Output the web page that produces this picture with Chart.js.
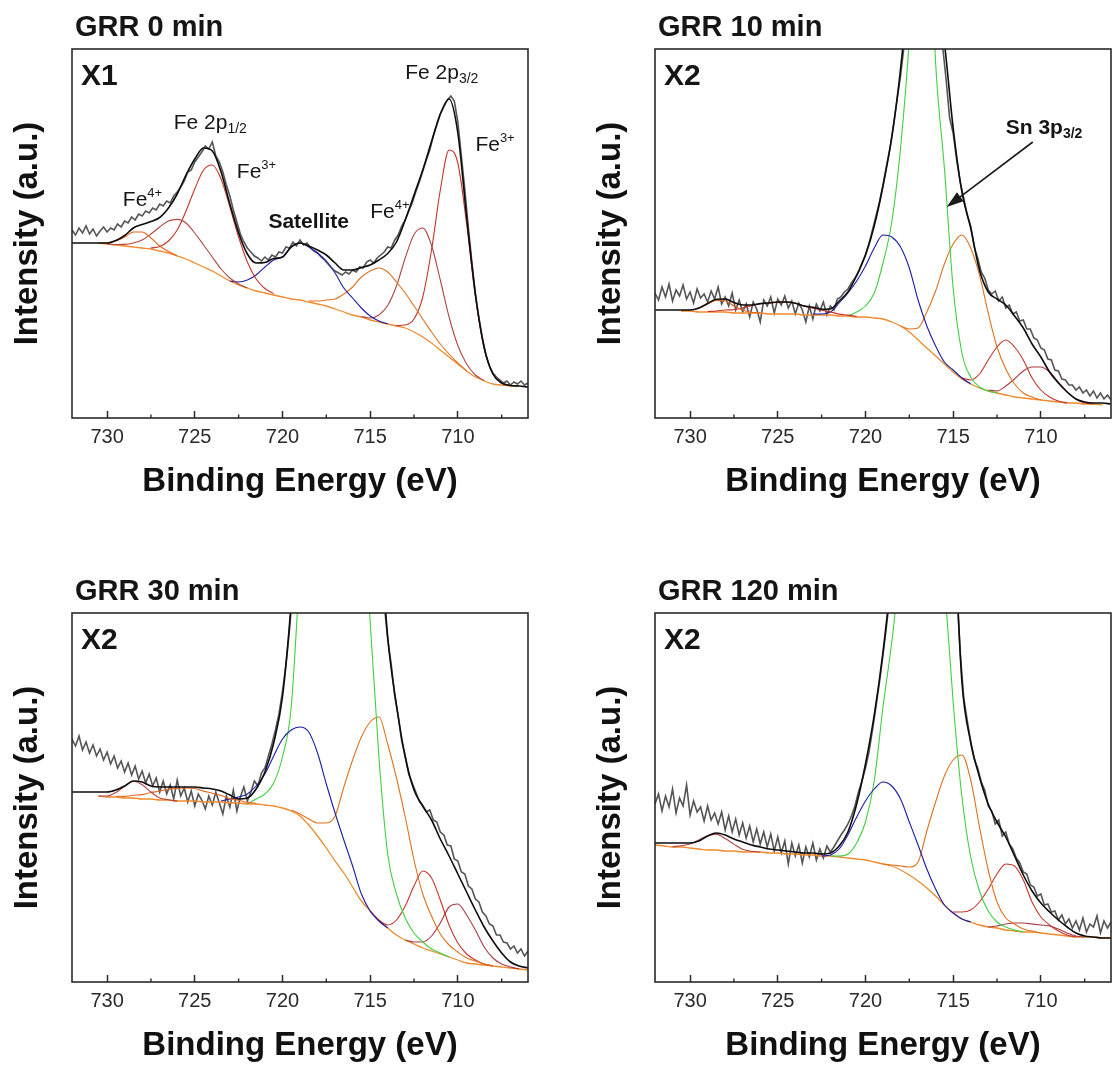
<!DOCTYPE html>
<html><head><meta charset="utf-8">
<script src="https://cdn.jsdelivr.net/npm/chart.js@4.4.1/dist/chart.umd.min.js"></script>
<style>
html,body{margin:0;padding:0;background:#fff;}
#wrap{position:relative;width:1113px;height:1068px;overflow:hidden;background:#fff;}
.pan{position:absolute;width:530px;height:504px;}
canvas{display:block;}
</style></head><body>
<div id="wrap">
<div class="pan" style="left:0;top:0"><canvas id="c0" width="530" height="504"></canvas></div>
<div class="pan" style="left:583px;top:0"><canvas id="c1" width="530" height="504"></canvas></div>
<div class="pan" style="left:0;top:564px"><canvas id="c2" width="530" height="504"></canvas></div>
<div class="pan" style="left:583px;top:564px"><canvas id="c3" width="530" height="504"></canvas></div>
</div>
<script>
// ---------------- DATA ----------------
const fitEnergy = [732,731.5,731,730.5,730,729.5,729,728.5,728,727.5,727,726.5,726,725.5,725,724.5,724,723.5,723,722.5,722,721.5,721,720.5,720,719.5,719,718.5,718,717.5,717,716.5,716,715.5,715,714.5,714,713.5,713,712.5,712,711.5,711,710.5,710,709.5,709,708.5,708,707.5,707,706.5,706];
const rawEnergy = [732,731.8,731.6,731.4,731.2,731,730.8,730.6,730.4,730.2,
730,729.8,729.6,729.4,729.2,729,728.8,728.6,728.4,728.2,
728,727.8,727.6,727.4,727.2,727,726.8,726.6,726.4,726.2,
726,725.8,725.6,725.4,725.2,725,724.8,724.6,724.4,724.2,
724,723.8,723.6,723.4,723.2,723,722.8,722.6,722.4,722.2,
722,721.8,721.6,721.4,721.2,721,720.8,720.6,720.4,720.2,
720,719.8,719.6,719.4,719.2,719,718.8,718.6,718.4,718.2,
718,717.8,717.6,717.4,717.2,717,716.8,716.6,716.4,716.2,
716,715.8,715.6,715.4,715.2,715,714.8,714.6,714.4,714.2,
714,713.8,713.6,713.4,713.2,713,712.8,712.6,712.4,712.2,
712,711.8,711.6,711.4,711.2,711,710.8,710.6,710.4,710.2,
710,709.8,709.6,709.4,709.2,709,708.8,708.6,708.4,708.2,
708,707.8,707.6,707.4,707.2,707,706.8,706.6,706.4,706.2,
706];
const xTickValues = [730,725,720,715,710];
const xTickLabels = ['730','725','720','715','710'];
const minorTickValues = [727.5,722.5,717.5,712.5,707.5];
const panelTitles = ['GRR 0 min','GRR 10 min','GRR 30 min','GRR 120 min'];
const panelMagnification = ['X1','X2','X2','X2'];
const xAxisTitle = 'Binding Energy (eV)';
const yAxisTitle = 'Intensity (a.u.)';

// ---- Panel 1 : GRR 0 min ----
const p1Raw = [188,183,190,185,192,184,189,182,187,191, 186,190,188,194,191,197,195,201,198,204, 202,207,205,210,208,214,212,217,215,222, 226,231,237,246,248,256,261,266,272,269, 276,262,256,246,233,222,208,196,184,176, 170,166,162,160,157,161,158,163,161,166, 165,171,170,176,172,178,173,175,170,167, 165,161,158,154,150,147,145,143,146,144, 148,146,151,150,156,158,155,160,163,166, 171,170,178,183,192,198,207,215,226,236, 247,258,268,282,293,304,311,318,322,317, 296,262,228,190,156,124,100,80,63,52, 45,41,38,35,37,33,36,34,37,33, 35];
const p1Env = {from:732, y:[175,175,175,175,175,177.5,182.5,190,193.5,196.5,200.5,210,224,243,259,270,267,246,214,185,164,155,155.5,159.5,161,171,175,172,168,163,155,148,148,150.5,153,158,164.5,176,198,223,248,276.5,304,319,285,201,124,70.5,44,35,32.5,32,31]};
const p1Bg = {from:730.5, y:[175,174,173,172,171,170,169,167,165,162,159,155,151,147,142,137,133,130,127,125,123,121,119,118,116,114,112,109,106,103,101,98,96,94,92,90,86,81,75,68,61,54,47,41,37,34,33,32,32]};
const p1FeIVa = {from:730.5, y:[175,175,177,181,186,186,180,172,166.5,162]};
const p1FeIVb = {from:730, y:[174,173.5,173.6,175,178,184,191,197,198.6,195,185,173,161,149,140,134,130]};
const p1FeIIIa = {from:727.5, y:[170,171.5,177,188,207,229,248,253,239,211,181,156,139,129.5,124.4]};
const p1Sat = {from:723, y:[137,136,138,143,151,158,161,171,175,171,165,157,145,130,120,110,102,97,94]};
const p1FeIVc = {from:718.5, y:[117,117,118,119,124,131,141,147,150,146,136,125,112,99,86,74,64,55,47]};
const p1FeIVd = {from:715.5, y:[101.5,100,103,112.5,132,160,183.5,190,172.5,138,101,72.5,54,43,37.5]};
const p1FeIIIb = {from:713.5, y:[92.4,93,99,121,168,228,268,255,194,121.6,70,44,35,32.4]};

// ---- Panel 2 : GRR 10 min ----
const p2Raw = [125,118,131,121,134,117,128,122,133,119, 126,115,129,120,124,116,127,119,131,114, 121,112,125,108,118,106,114,101,116,109, 96,118,112,121,105,119,113,122,110,117, 104,115,108,96,112,99,114,107,116,103, 112,108,119,121,126,129,135,140,146,155, 163,174,188,202,216,233,252,270,292,318, 342,372,420,480,540,590,610,605,570,500, 440,400,372,338,300,285,258,236,220,203, 192,171,160,146,140,128,124,127,117,121, 110,113,104,106,97,98,89,89,80,78, 70,68,59,58,48,47,39,38,33,33, 28,31,25,28,22,27,20,25,19,23, 18];
const p2Env = {from:732, y:[108,108,108,108,108,110,114.5,118.7,119,115.4,113,113,114.4,115,116,116,114.7,112,110.8,108.8,109,117,126,142.5,163,192,232,281,349,447,612,618,430,375,290,226,190,148,126,119,113,102,90,74,61,46,35,26,19,16,15,15,14]};
const p2Bg = {from:730.5, y:[107,107,106,106,106,106,105,105,105,105,104,104,104,104,103,103,103,103,102,102,101,101,100,99,96,92,86,78,70,62,54,46,39,34,30,27,25,23,21,20,19,18,17,16,15,15,14,14,13]};
const p2FeA = {from:730.5, y:[107.2,108,109.6,114,117.6,117.2,112,107.8,105.8,105.1]};
const p2FeB = {from:729, y:[106.5,107,108,108.3,110.2,112.3,114.3,115,115.9,115.9,114.7,111.9,109.8,107.8,106.1,103.9,102.9,101.5]};
const p2Sat = {from:723, y:[104,104,106,115,125,137,152,170,183,181,171,150,118,92,72,56,48,40,34]};
const p2Sn = {from:721, y:[102,106,112,125,155,196,270,380,560,560,355,250,130,65,41,31,27,25]};
const p2FeIV = {from:718, y:[92,89,90,106,127,154,174,183,170,143,105,71,49,34,25,21,18]};
const p2FeIIIa = {from:714.5, y:[40,38,44,58,71,78,71,58,40,28,21,17,15]};
const p2FeIIIb = {from:713, y:[28,27,32,39,47,51,51,46,36,26,19,15,14]};

// ---- Panel 3 : GRR 30 min ----
const p3Raw = [243,236,246,232,240,229,237,226,233,222, 230,218,226,214,221,210,219,207,216,203, 211,199,208,196,204,190,201,188,197,183, 202,186,194,180,191,176,188,182,173,186, 177,190,179,168,186,175,192,171,185,195, 181,190,201,196,209,214,226,238,252,268, 290,318,352,395,450,520,590,660,720,780, 830,870,900,915,920,915,900,870,830,780, 720,660,600,550,510,480,455,435,415,378, 343,318,286,266,241,226,208,199,190,181, 176,170,172,162,160,150,147,137,136,123, 121,110,108,96,93,83,80,70,66,58, 56,47,47,40,39,33,36,29,33,26, 31];
const p3Env = {from:732, y:[190,190,190,190,190,192,196,201,200,196,195,195,195,195,195,194,193,191,187,183,184,193,210,239,285,380,520,700,880,900,900,900,880,700,580,470,345,277,225,192,176,162,143,126,108,90,72,55,41,29,20,16,14]};
const p3Bg = {from:730.5, y:[186,185,185,184,184,183,183,182,182,181,181,181,180,180,180,179,179,178,178,177,176,174,171,166,157,146,134,121,109,95,81,71,61,54,47,42,38,34,31,28,25,22,19,18,17,16,15,14,13,12]};
const p3FeA = {from:730.5, y:[186,186,189.6,195.6,200.8,197.3,190,184,182.3,181]};
const p3FeB = {from:729.5, y:[185.8,185.6,186.7,187.4,189.5,190.8,192.9,193.5,194,193.5,190.9,188.8,186.5,183.4,181.7,179.6,178.8]};
const p3Sat = {from:723.5, y:[181,183,185,188,196,208,226,243,252,255,250,229,198,169,142,116,88,71,61,54]};
const p3Sn = {from:722, y:[178,183,188,199,225,275,420,600,800,900,900,850,700,520,360,225,128,88,64,49,40,33,29,25]};
const p3FeIV = {from:719.5, y:[172,168,163,159,159,166,195,222,245,260,265,238,204,165,122,88,66,48,37,30,24,21,18,16]};
const p3FeIIIa = {from:715, y:[71,62,57,62,76,96,111,104,82,57,39,28,22,18,16]};
const p3FeIIIb = {from:713, y:[42,40,40,46,59,75,78,67,52,35,24,18,15,13]};

// ---- Panel 4 : GRR 120 min ----
const p4Raw = [178,188,171,186,175,193,169,184,176,197, 167,181,170,175,161,176,162,169,158,170, 152,166,150,163,147,159,144,156,140,153, 138,150,135,148,131,145,129,141,118,139, 126,137,119,135,125,139,122,133,124,136, 130,135,141,147,152,158,166,176,190,201, 214,230,252,275,300,327,356,388,420,460, 500,540,570,590,600,605,605,600,590,575, 560,540,515,490,470,455,395,330,285,262, 240,223,214,200,192,176,171,158,162,146, 150,138,133,124,119,110,108,97,95,86, 88,77,78,70,71,62,67,58,63,54, 61,52,64,50,58,55,66,49,61,54, 60];
const p4Env = {from:732, y:[139,139,139,139,139,141,146,149,147,143,140,137,135,133,132,131,130,129,129,128,129,136,150,178,218,267,330,410,500,580,620,620,600,540,470,300,240,205,178,160,145,126,107,91,79,70,62,55,49,46,45,44,44]};
const p4Bg = {from:732, y:[137,136,135,135,134,133,132,132,131,131,130,130,130,129,129,128,128,127,127,126,126,125,124,123,122,120,118,116,112,107,101,94,86,77,69,63,60,57,55,54,52,51,50,50,49,48,47,46,45,45,45,44,44]};
const p4FeA = {from:731, y:[135.3,136.3,138.1,142.1,146.3,147.9,143.5,137.9,132.7,130.8,130]};
const p4Sat = {from:722.5, y:[126,127,133,147,165,181,193,200,196,183,160,137,113,93,77,69,63,60]};
const p4Sn = {from:722, y:[126,126,128,139,160,201,275,340,420,500,540,540,500,400,280,185,125,91,71,60,55,52,50]};
const p4FeIV = {from:719, y:[118,117,116,115,120,151,180,206,222,227,202,155,112,80,64,58,53,51,49]};
const p4FeIIIa = {from:715, y:[70,70,72,80,93,108,118,116,102,80,65,57,51,47,45]};
const p4FeIIIb = {from:713, y:[55,56,58,59,59,58,57,56,53,49,46,45]};

// ---- Annotations (text, anchored in data units) ----
const p1Labels = [
  {e:726.2, v:295, parts:[{t:'Fe 2p',s:21},{t:'1/2',s:14,dy:6}]},
  {e:722.6, v:246, parts:[{t:'Fe',s:21},{t:'3+',s:13,dy:-7}]},
  {e:729.1, v:218, parts:[{t:'Fe',s:21},{t:'4+',s:13,dy:-7}]},
  {e:720.8, v:196, parts:[{t:'Satellite',s:21,w:'bold'}]},
  {e:715.0, v:206, parts:[{t:'Fe',s:21},{t:'4+',s:13,dy:-7}]},
  {e:713.0, v:345, parts:[{t:'Fe 2p',s:21},{t:'3/2',s:14,dy:6}]},
  {e:709.0, v:273, parts:[{t:'Fe',s:21},{t:'3+',s:13,dy:-7}]}
];
const p2Labels = [{e:712.0, v:290, parts:[{t:'Sn 3p',s:21,w:'bold'},{t:'3/2',s:14,dy:6,w:'bold'}]}];
const p2Arrows = [{from:[710.46,276], to:[715.37,211]}];

// ---------------- STYLE ----------------
const FAMILY = '"Liberation Sans", Arial, Helvetica, sans-serif';
const COL = {
  raw:'#555555', env:'#0d0d0d', bg:'#ef8a2e',
  orange:'#e2661c', orange2:'#e0731f', brown:'#b0473f', red:'#c6352a',
  blue:'#1b1ba8', green:'#3fd13f', maroon:'#a83a44'
};

// ---------------- BUILD ----------------
function fitSeries(s) {
  const start = fitEnergy.indexOf(s.from);
  if (start < 0 || start + s.y.length > fitEnergy.length) throw new Error('bad fit series from ' + s.from + ' len ' + s.y.length);
  return s.y.map((v, i) => ({x: fitEnergy[start + i], y: v}));
}
function rawSeries(ys) {
  if (ys.length !== rawEnergy.length) throw new Error('raw length ' + ys.length);
  return ys.map((v, i) => ({x: rawEnergy[i], y: v}));
}
function ds(label, data, color, width, order, extra) {
  return Object.assign({label, data, borderColor: color, backgroundColor: color, borderWidth: width,
    pointRadius: 0, pointHoverRadius: 0, fill: false, order, cubicInterpolationMode: 'monotone'}, extra || {});
}

function drawRich(ctx, x, y, parts) {
  let cx = x;
  for (const p of parts) {
    ctx.font = (p.w || 'normal') + ' ' + p.s + 'px ' + FAMILY;
    ctx.fillText(p.t, cx, y + (p.dy || 0));
    cx += ctx.measureText(p.t).width;
  }
}

function makeFrame(panel) {
  return {
    id: 'frame' + panel.canvas,
    afterDraw(chart) {
      const {ctx, chartArea: ca, scales: {x, y}} = chart;
      ctx.save();
      ctx.strokeStyle = '#2a2a2a';
      ctx.lineWidth = 1.6;
      ctx.strokeRect(ca.left, ca.top, ca.right - ca.left, ca.bottom - ca.top);
      ctx.lineWidth = 1.4;
      minorTickValues.forEach(v => {
        const px = x.getPixelForValue(v);
        ctx.beginPath(); ctx.moveTo(px, ca.bottom); ctx.lineTo(px, ca.bottom - 3.5); ctx.stroke();
      });
      ctx.fillStyle = '#151515';
      ctx.textBaseline = 'middle';
      ctx.textAlign = 'left';
      ctx.font = 'bold 29px ' + FAMILY;
      ctx.fillText(panel.title, ca.left + 3, ca.top - 21);
      ctx.font = 'bold 30px ' + FAMILY;
      ctx.fillText(panel.mag, ca.left + 9, ca.top + 28);
      (panel.labels || []).forEach(l => drawRich(ctx, x.getPixelForValue(l.e), y.getPixelForValue(l.v), l.parts));
      ctx.strokeStyle = '#1a1a1a'; ctx.fillStyle = '#1a1a1a'; ctx.lineWidth = 1.6;
      (panel.arrows || []).forEach(a => {
        const x1 = x.getPixelForValue(a.from[0]), y1 = y.getPixelForValue(a.from[1]);
        const x2 = x.getPixelForValue(a.to[0]), y2 = y.getPixelForValue(a.to[1]);
        const ang = Math.atan2(y2 - y1, x2 - x1), c = Math.cos(ang), s = Math.sin(ang);
        ctx.beginPath(); ctx.moveTo(x1, y1); ctx.lineTo(x2 - 12 * c, y2 - 12 * s); ctx.stroke();
        ctx.beginPath(); ctx.moveTo(x2, y2);
        ctx.lineTo(x2 - 17 * c + 5.5 * s, y2 - 17 * s - 5.5 * c);
        ctx.lineTo(x2 - 17 * c - 5.5 * s, y2 - 17 * s + 5.5 * c);
        ctx.closePath(); ctx.fill();
      });
      ctx.restore();
    }
  };
}

const panels = [
  {canvas:'c0', title:panelTitles[0], mag:panelMagnification[0], raw:p1Raw, env:p1Env, bg:p1Bg,
   comps:[[p1FeIVa,COL.orange],[p1FeIVb,COL.brown],[p1FeIIIa,COL.red],[p1Sat,COL.blue],[p1FeIVc,COL.orange2],[p1FeIVd,COL.brown],[p1FeIIIb,COL.red]],
   labels:p1Labels, arrows:[]},
  {canvas:'c1', title:panelTitles[1], mag:panelMagnification[1], raw:p2Raw, env:p2Env, bg:p2Bg,
   comps:[[p2FeA,COL.orange],[p2FeB,COL.red],[p2Sat,COL.blue],[p2Sn,COL.green],[p2FeIV,COL.orange2],[p2FeIIIa,COL.red],[p2FeIIIb,COL.maroon]],
   labels:p2Labels, arrows:p2Arrows},
  {canvas:'c2', title:panelTitles[2], mag:panelMagnification[2], raw:p3Raw, env:p3Env, bg:p3Bg,
   comps:[[p3FeA,COL.brown],[p3FeB,COL.orange],[p3Sat,COL.blue],[p3Sn,COL.green],[p3FeIV,COL.orange2],[p3FeIIIa,COL.red],[p3FeIIIb,COL.maroon]],
   labels:[], arrows:[]},
  {canvas:'c3', title:panelTitles[3], mag:panelMagnification[3], raw:p4Raw, env:p4Env, bg:p4Bg,
   comps:[[p4FeA,COL.brown],[p4Sat,COL.blue],[p4Sn,COL.green],[p4FeIV,COL.orange2],[p4FeIIIa,COL.red],[p4FeIIIb,COL.maroon]],
   labels:[], arrows:[]}
];

Chart.defaults.font.family = FAMILY;

panels.forEach(panel => {
  const datasets = [];
  datasets.push(ds('Envelope', fitSeries(panel.env), COL.env, 1.6, 0));
  panel.comps.forEach((c, i) => datasets.push(ds('Component ' + (i + 1), fitSeries(c[0]), c[1], 1.1, 1)));
  datasets.push(ds('Background', fitSeries(panel.bg), COL.bg, 1.3, 2));
  datasets.push(ds('Raw', rawSeries(panel.raw), COL.raw, 1.6, 3, {cubicInterpolationMode: 'default', tension: 0}));

  new Chart(document.getElementById(panel.canvas), {
    type: 'line',
    data: {datasets},
    plugins: [makeFrame(panel)],
    options: {
      responsive: false, animation: false, devicePixelRatio: 1, events: [],
      layout: {padding: {left: 0, top: 49, right: 2, bottom: 0}},
      plugins: {legend: {display: false}, tooltip: {enabled: false}, title: {display: false}},
      scales: {
        x: {
          type: 'linear', min: 706, max: 732, reverse: true,
          afterBuildTicks: s => { s.ticks = xTickValues.map(v => ({value: v})); },
          afterFit: s => { s.height = 86; },
          ticks: {
            callback: v => xTickLabels[xTickValues.indexOf(v)],
            font: {size: 20, family: FAMILY}, color: '#2b2b2b', padding: 14,
            maxRotation: 0, autoSkip: false
          },
          grid: {drawOnChartArea: false, drawTicks: true, tickLength: -7, tickColor: '#2a2a2a', tickWidth: 1.5},
          border: {display: false},
          title: {display: true, text: xAxisTitle, color: '#111',
                  font: {size: 33, weight: 'bold', family: FAMILY}, padding: {top: 0, bottom: 2}}
        },
        y: {
          type: 'linear', min: 0, max: 369,
          afterFit: s => { s.width = 72; },
          ticks: {display: false},
          grid: {display: false, drawTicks: false},
          border: {display: false},
          title: {display: true, text: yAxisTitle, color: '#111',
                  font: {size: 33, weight: 'bold', family: FAMILY}, padding: {top: 8, bottom: 0}}
        }
      }
    }
  });
});
</script>
</body></html>
